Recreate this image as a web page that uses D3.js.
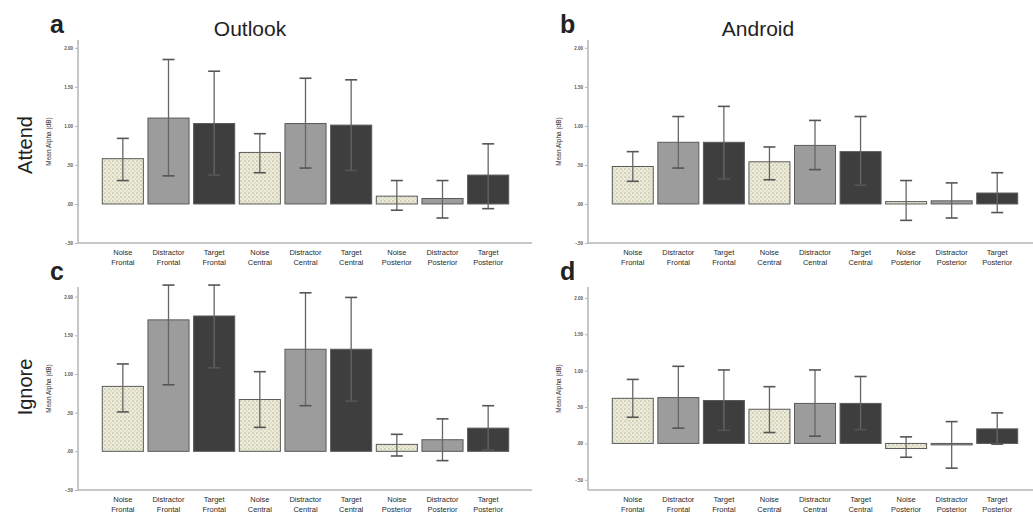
<!DOCTYPE html>
<html><head><meta charset="utf-8">
<script src="https://cdn.jsdelivr.net/npm/d3@7"></script>
<style>body{margin:0;background:#fff}svg{display:block}</style>
</head><body>
<svg id="chart" width="1033" height="514"></svg>
<script>
// ---- data ----
const categories = ["Noise|Frontal","Distractor|Frontal","Target|Frontal","Noise|Central","Distractor|Central","Target|Central","Noise|Posterior","Distractor|Posterior","Target|Posterior"];
const conditionType = ["noise","distractor","target","noise","distractor","target","noise","distractor","target"];
const yTicks = [-0.5, 0, 0.5, 1.0, 1.5, 2.0];
const yTickLabels = ["-.50", ".00", ".50", "1.00", "1.50", "2.00"];
const panelLetters = ["a","b","c","d"];
const columnTitles = ["Outlook","Android"];
const rowTitles = ["Attend","Ignore"];
const yAxisTitle = "Mean Alpha (dB)";

// panel a: Outlook / Attend
const meanA = [0.58, 1.10, 1.03, 0.66, 1.03, 1.01, 0.10, 0.07, 0.37];
const hiA   = [0.84, 1.85, 1.70, 0.90, 1.61, 1.59, 0.30, 0.30, 0.77];
const loA   = [0.30, 0.36, 0.37, 0.40, 0.46, 0.43, -0.08, -0.18, -0.06];
// panel b: Android / Attend
const meanB = [0.48, 0.79, 0.79, 0.54, 0.75, 0.67, 0.03, 0.04, 0.14];
const hiB   = [0.67, 1.12, 1.25, 0.73, 1.07, 1.12, 0.30, 0.27, 0.40];
const loB   = [0.29, 0.46, 0.32, 0.31, 0.44, 0.24, -0.21, -0.18, -0.11];
// panel c: Outlook / Ignore
const meanC = [0.84, 1.70, 1.75, 0.67, 1.32, 1.32, 0.09, 0.15, 0.30];
const hiC   = [1.13, 2.15, 2.15, 1.03, 2.05, 1.99, 0.22, 0.42, 0.59];
const loC   = [0.51, 0.86, 1.08, 0.31, 0.59, 0.65, -0.06, -0.12, 0.02];
// panel d: Android / Ignore
const meanD = [0.62, 0.63, 0.59, 0.47, 0.55, 0.55, -0.07, -0.02, 0.20];
const hiD   = [0.88, 1.06, 1.01, 0.78, 1.01, 0.92, 0.09, 0.30, 0.42];
const loD   = [0.36, 0.21, 0.18, 0.15, 0.10, 0.19, -0.19, -0.34, -0.01];

// ---- layout ----
const panels = [
  {letter:0, mean:meanA, hi:hiA, lo:loA, ax:78,  xEnd:532,  dom:[-0.5,2.1],   rng:[243,40],  band:[100,511]},
  {letter:1, mean:meanB, hi:hiB, lo:loB, ax:588, xEnd:1033, dom:[-0.5,2.1],   rng:[243,40],  band:[610,1020]},
  {letter:2, mean:meanC, hi:hiC, lo:loC, ax:78,  xEnd:532,  dom:[-0.5,2.125], rng:[490,287], band:[100,511]},
  {letter:3, mean:meanD, hi:hiD, lo:loD, ax:588, xEnd:1033, dom:[-0.64,2.15], rng:[490,287], band:[610,1020]}
];
const fills = {noise:"url(#dots)", distractor:"#9c9c9c", target:"#3e3e3e"};

const svg = d3.select("#chart");
const defs = svg.append("defs");
const pat = defs.append("pattern").attr("id","dots").attr("patternUnits","userSpaceOnUse")
  .attr("width",4).attr("height",4);
pat.append("rect").attr("width",4).attr("height",4).attr("fill","#ececd8");
pat.append("circle").attr("cx",1).attr("cy",1).attr("r",0.8).attr("fill","#b3b39c");
pat.append("circle").attr("cx",3).attr("cy",3).attr("r",0.7).attr("fill","#c4c4ae");

const font = "Arial, 'Liberation Sans', Helvetica, sans-serif";

panels.forEach((p, pi) => {
  const g = svg.append("g");
  const y = d3.scaleLinear().domain(p.dom).range(p.rng);
  const x = d3.scaleBand().domain(categories).range(p.band).paddingInner(0.1).paddingOuter(0.05);

  // y axis
  const yAxis = d3.axisLeft(y).tickValues(yTicks).tickSize(3).tickFormat((d,i)=>yTickLabels[i]);
  const ya = g.append("g").attr("transform",`translate(${p.ax},0)`).call(yAxis);
  ya.select(".domain").attr("stroke","#b5b5b5").attr("stroke-width",1.5).attr("d",`M0,${p.rng[1]}V${p.rng[0]}`);
  ya.selectAll(".tick line").attr("stroke","#b5b5b5");
  ya.selectAll(".tick text").attr("font-size",4.5).attr("font-family",font).attr("font-weight","bold").attr("fill","#555").attr("x",-5);

  // x axis line
  const xa = d3.axisBottom(x).tickSize(0).tickFormat("");
  const xg = g.append("g").attr("transform",`translate(0,${p.rng[0]})`).call(xa);
  xg.select(".domain").attr("stroke","#b5b5b5").attr("stroke-width",1.5).attr("d",`M${p.ax},0H${p.xEnd}`);

  // x labels (two lines)
  categories.forEach((c) => {
    const parts = c.split("|");
    const t = g.append("text").attr("font-family",font).attr("font-size",7.5)
      .attr("fill","#2a2a2a").attr("text-anchor","middle");
    parts.forEach((s,k)=>{
      t.append("tspan").attr("x", x(c)+x.bandwidth()/2).attr("y", p.rng[0]+12+k*9.5).text(s);
    });
  });

  // bars
  g.selectAll("rect.bar").data(p.mean).join("rect").attr("class","bar")
    .attr("x",(d,i)=>x(categories[i]))
    .attr("width",x.bandwidth())
    .attr("y",d=>Math.min(y(d),y(0)))
    .attr("height",d=>Math.abs(y(d)-y(0)))
    .attr("fill",(d,i)=>fills[conditionType[i]])
    .attr("stroke","#5a5a5a").attr("stroke-width",1);

  // error bars
  const eb = g.selectAll("g.err").data(p.mean).join("g").attr("class","err");
  const cx = i => x(categories[i]) + x.bandwidth()/2;
  eb.append("line").attr("x1",(d,i)=>cx(i)).attr("x2",(d,i)=>cx(i))
    .attr("y1",(d,i)=>y(p.hi[i])).attr("y2",(d,i)=>y(p.lo[i]))
    .attr("stroke","#666").attr("stroke-width",1.3);
  [p.hi, p.lo].forEach(arr=>{
    eb.append("line").attr("x1",(d,i)=>cx(i)-6).attr("x2",(d,i)=>cx(i)+6)
      .attr("y1",(d,i)=>y(arr[i])).attr("y2",(d,i)=>y(arr[i]))
      .attr("stroke","#555").attr("stroke-width",1.6);
  });

  // y axis title
  const yc = (p.rng[0]+p.rng[1])/2;
  g.append("text").attr("transform",`translate(${p.ax-27},${yc}) rotate(-90)`)
    .attr("text-anchor","middle").attr("font-family",font).attr("font-size",6.5)
    .attr("fill","#333").text(yAxisTitle);

  // panel letter
  g.append("text").attr("x", p.ax-28).attr("y", p.rng[1]-7)
    .attr("font-family",font).attr("font-weight","bold").attr("font-size",25)
    .attr("fill","#222").text(panelLetters[p.letter]);
});

// column titles
[250, 758].forEach((cxp,i)=>{
  svg.append("text").attr("x",cxp).attr("y",36).attr("text-anchor","middle")
    .attr("font-family",font).attr("font-size",21).attr("fill","#222").text(columnTitles[i]);
});
// row titles
[145, 387].forEach((cyp,i)=>{
  svg.append("text").attr("transform",`translate(32,${cyp}) rotate(-90)`).attr("text-anchor","middle")
    .attr("font-family",font).attr("font-size",20).attr("fill","#222").text(rowTitles[i]);
});
</script>
</body></html>
